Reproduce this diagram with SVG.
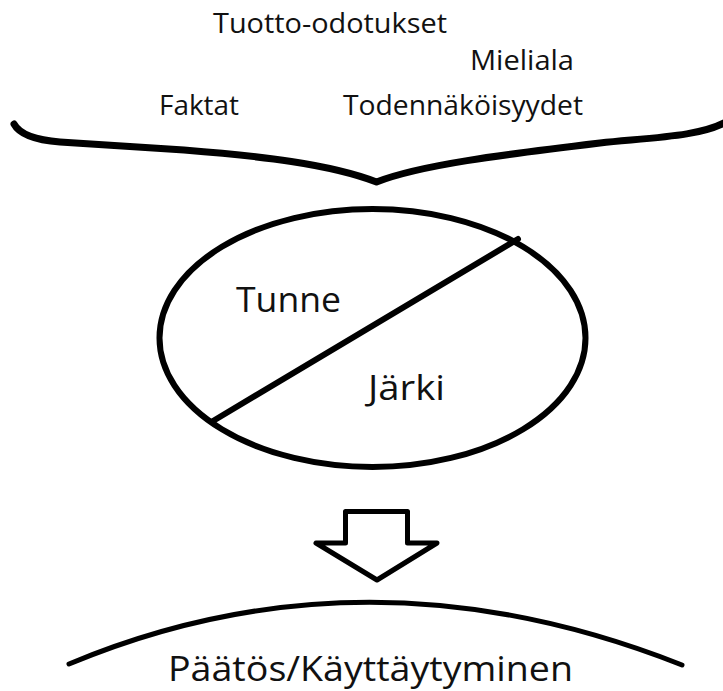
<svg xmlns="http://www.w3.org/2000/svg" width="723" height="691" viewBox="0 0 723 691">
  <style>
    .lbl { font-family: "Open Sans", "Noto Sans", "Liberation Sans", sans-serif; fill: #111; }
    .sm { font-size: 28px; }
    .lg { font-size: 35px; }
    .ln { fill: none; stroke: #000; stroke-linecap: round; stroke-linejoin: round; }
  </style>
  <rect width="723" height="691" fill="#fff"/>
  <g id="factors">
    <text class="lbl sm" x="213" y="33" textLength="234" lengthAdjust="spacingAndGlyphs">Tuotto-odotukset</text>
    <text class="lbl sm" x="470" y="70" textLength="104" lengthAdjust="spacingAndGlyphs">Mieliala</text>
    <text class="lbl sm" x="159" y="115" textLength="80" lengthAdjust="spacingAndGlyphs">Faktat</text>
    <text class="lbl sm" x="343" y="115" textLength="240" lengthAdjust="spacingAndGlyphs">Todennäköisyydet</text>
  </g>
  <g id="mind">
    <ellipse class="ln" cx="372.5" cy="338" rx="213" ry="129" stroke-width="6"/>
    <line class="ln" x1="213" y1="421" x2="518" y2="239" stroke-width="6" stroke-linecap="butt"/>
    <text class="lbl lg" x="236" y="312" textLength="105" lengthAdjust="spacingAndGlyphs">Tunne</text>
    <text class="lbl lg" x="368" y="400" textLength="77" lengthAdjust="spacingAndGlyphs">Järki</text>
  </g>
  <g id="decision">
    <path class="ln" d="M69,664 Q366,540 682,665" stroke-width="5"/>
    <text class="lbl" style="font-size:34px" x="168" y="681" textLength="405" lengthAdjust="spacingAndGlyphs">Päätös/Käyttäytyminen</text>
  </g>
  <g id="connectors">
    <path class="ln" d="M14,124 Q22,139 60,142 L184,150 C260,156 330,164 376.5,182 C420,165 500,155 600,143 C660,137 700,136 726,122" stroke-width="7"/>
    <path class="ln" d="M345.5,511.5 L407.5,511.5 L407.5,543 L437,543 L377,580 L316,543 L345.5,543 Z" stroke-width="5"/>
  </g>
</svg>
